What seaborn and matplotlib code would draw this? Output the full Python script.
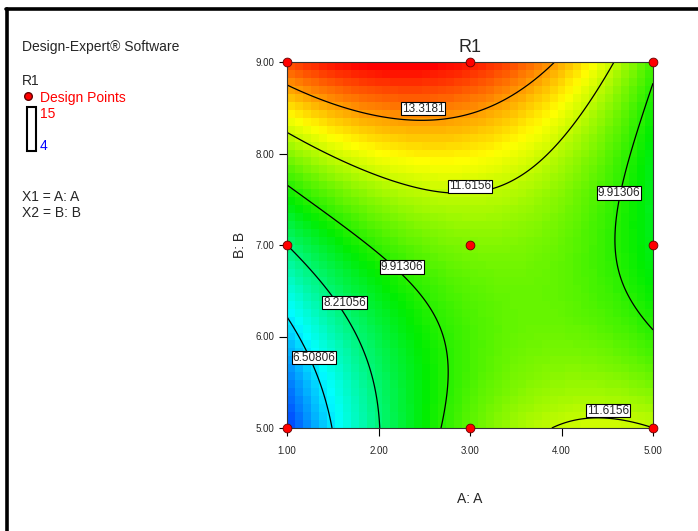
import numpy as np
import pandas as pd
import matplotlib
matplotlib.use("Agg")
import matplotlib.pyplot as plt
from matplotlib.colors import LinearSegmentedColormap
from matplotlib.lines import Line2D
from matplotlib.patches import Rectangle
import seaborn as sns

# ---- data ----
a_levels = [1.0, 3.0, 5.0]
b_levels = [5.0, 7.0, 9.0]
# response at design points, rows = B (5,7,9), cols = A (1,3,5)
r1_values = [
    [4.6, 10.53, 11.62],
    [8.21, 10.86, 9.22],
    [14.2, 14.8, 10.2],
]
contour_levels = [6.50806, 8.21056, 9.91306, 11.6156, 13.3181]
label_texts = ["13.3181", "11.6156", "9.91306", "9.91306", "8.21056",
               "6.50806", "11.6156"]
r1_min, r1_max = 4, 15
x_ticks = [1.0, 2.0, 3.0, 4.0, 5.0]
y_ticks = [5.0, 6.0, 7.0, 8.0, 9.0]

sns.set_theme(style="white")
plt.rcParams['font.family'] = ['Liberation Sans', 'DejaVu Sans']

def lagrange(t, nodes):
    out = []
    for i, ni in enumerate(nodes):
        v = np.ones_like(t)
        for j, nj in enumerate(nodes):
            if i != j:
                v = v * (t - nj) / (ni - nj)
        out.append(v)
    return out

def surface(A, B):
    la = lagrange(A, a_levels)
    lb = lagrange(B, b_levels)
    Z = np.zeros_like(A)
    for i in range(3):
        for j in range(3):
            Z += r1_values[i][j] * lb[i] * la[j]
    return Z

fig = plt.figure(figsize=(6.98, 5.31), dpi=100)
ax = fig.add_axes([287/698, 1-428/531, 366/698, 366/531])

cmap = LinearSegmentedColormap.from_list(
    "de", ["#0000ff", "#00ffff", "#00ee00", "#ffff00", "#ff0000"])

# blocky colour fill
n = 46
edges_a = np.linspace(1, 5, n + 1)
edges_b = np.linspace(5, 9, n + 1)
ca = (edges_a[:-1] + edges_a[1:]) / 2
cb = (edges_b[:-1] + edges_b[1:]) / 2
CA, CB = np.meshgrid(ca, cb)
ax.pcolormesh(edges_a, edges_b, surface(CA, CB), cmap=cmap,
              vmin=r1_min, vmax=r1_max, shading="flat")

# smooth contours
ga = np.linspace(1, 5, 300)
gb = np.linspace(5, 9, 300)
GA, GB = np.meshgrid(ga, gb)
GZ = surface(GA, GB)
ax.contour(GA, GB, GZ, levels=contour_levels, colors="black",
           linewidths=0.9)

# contour labels
label_pos = [(2.49, 8.49), (3.0, 7.64), (4.63, 7.57), (2.26, 6.76),
             (1.63, 6.37), (1.295, 5.77), (4.51, 5.19)]
for (lx, ly), s in zip(label_pos, label_texts):
    ax.text(lx, ly, s, ha="center", va="center", fontsize=8.5, zorder=4,
            bbox=dict(facecolor="white", edgecolor="black", pad=0.6,
                      linewidth=0.8))

# design points
pts = pd.DataFrame([(a, b) for b in b_levels for a in a_levels],
                   columns=["A", "B"])
sns.scatterplot(data=pts, x="A", y="B", ax=ax, color="#ff0000",
                edgecolor="#660000", linewidth=0.6, s=40, zorder=5,
                clip_on=False)

ax.set_xlim(1, 5)
ax.set_ylim(5, 9)
ax.set_xticks(x_ticks)
ax.set_yticks(y_ticks)
ax.set_xticklabels(["%.2f" % v for v in x_ticks], fontsize=7)
ax.set_yticklabels(["%.2f" % v for v in y_ticks], fontsize=7)
ax.tick_params(axis="both", direction="out", length=6, width=0.8,
               color="black", bottom=True, left=True, pad=3)
ax.tick_params(axis="x", pad=7)
for sp in ax.spines.values():
    sp.set_color("#333333")
    sp.set_linewidth(0.8)
ax.set_xlabel("A: A", fontsize=10, labelpad=26)
ax.set_ylabel("B: B", fontsize=10, labelpad=6)
ax.set_title("R1", fontsize=13, pad=7)

# left info panel
def ftext(x, y, s, **kw):
    fig.text(x/698, 1-y/531, s, va="center", ha="left", **kw)

ftext(22, 47, "Design-Expert\u00ae Software", fontsize=10)
ftext(22, 81, "R1", fontsize=10)
fig.add_artist(Line2D([28/698], [1-96/531], marker="o", color="#ff0000",
                      markeredgecolor="#660000", markersize=5.5, lw=0))
ftext(40, 98, "Design Points", fontsize=10, color="#ff0000")
fig.add_artist(Rectangle((27/698, 1-151/531), 9/698, 44/531,
                         transform=fig.transFigure, fill=False,
                         edgecolor="black", linewidth=1.5))
ftext(40, 114, "15", fontsize=10, color="#ff0000")
ftext(40, 146, "4", fontsize=10, color="#0000ff")
ftext(22, 197, "X1 = A: A", fontsize=10)
ftext(22, 213, "X2 = B: B", fontsize=10)

# frame lines (left and top)
fig.add_artist(Line2D([7.5/698, 7.5/698], [0, 1-9/531], color="black",
                      lw=2.6, transform=fig.transFigure))
fig.add_artist(Line2D([6/698, 1], [1-9/531, 1-9/531], color="black",
                      lw=2.6, transform=fig.transFigure))

fig.savefig("out.png", dpi=100)
